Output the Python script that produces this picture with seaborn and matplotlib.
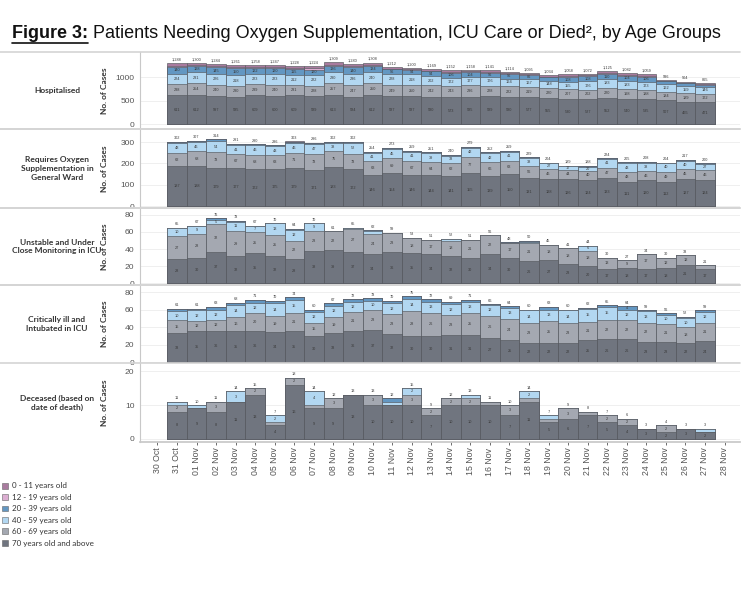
import numpy as np
import pandas as pd
import matplotlib
matplotlib.use("Agg")
import matplotlib.pyplot as plt
from matplotlib.lines import Line2D
from matplotlib.patches import Patch
import seaborn as sns

# ---- data ----
days = pd.date_range("2021-10-31", "2021-11-27")
day_labels = [d.strftime("%d %b") for d in days]
tick_labels = ["30 Oct"] + day_labels + ["28 Nov"]

groups = ["70 years old and above", "60 - 69 years old", "40 - 59 years old",
          "20 - 39 years old", "12 - 19 years old", "0 - 11 years old"]  # bottom -> top
colors = {"0 - 11 years old": "#a97b9f", "12 - 19 years old": "#dcaed2",
          "20 - 39 years old": "#6397c2", "40 - 59 years old": "#b2d7f1",
          "60 - 69 years old": "#a4a8b1", "70 years old and above": "#70757f"}

# Hospitalised
hosp_70 = [611, 612, 597, 585, 609, 600, 609, 589, 613, 584, 612, 587, 587, 580, 573, 585, 589, 580, 577, 555, 530, 527, 552, 540, 535, 507, 465, 471]
hosp_60 = [238, 254, 240, 230, 239, 240, 231, 228, 257, 247, 250, 249, 250, 242, 243, 236, 228, 222, 219, 220, 207, 202, 220, 198, 188, 184, 189, 172]
hosp_40 = [224, 231, 226, 218, 223, 223, 212, 222, 230, 236, 240, 228, 218, 202, 172, 177, 176, 164, 167, 148, 155, 176, 183, 183, 173, 162, 159, 146]
hosp_20 = [140, 128, 145, 150, 122, 120, 115, 120, 136, 140, 134, 96, 94, 94, 106, 104, 96, 96, 86, 72, 108, 108, 110, 104, 106, 54, 59, 49]
hosp_12 = [25, 25, 26, 28, 22, 22, 21, 22, 25, 25, 24, 18, 17, 17, 20, 19, 18, 18, 16, 14, 20, 20, 20, 19, 19, 10, 11, 10]
hosp_0 = [50, 50, 50, 50, 43, 42, 40, 43, 48, 48, 48, 34, 34, 34, 38, 37, 34, 34, 30, 25, 38, 39, 40, 38, 38, 19, 21, 17]

# Requires oxygen supplementation in general ward
oxy_70 = [187, 188, 179, 177, 172, 175, 179, 171, 183, 172, 146, 154, 146, 144, 141, 155, 139, 150, 131, 128, 126, 124, 133, 111, 120, 112, 127, 124]
oxy_60 = [62, 68, 73, 67, 68, 63, 71, 73, 75, 73, 63, 69, 67, 64, 62, 77, 66, 63, 56, 46, 44, 40, 47, 48, 46, 49, 45, 46]
oxy_40 = [48, 46, 54, 41, 46, 43, 46, 47, 38, 52, 41, 45, 41, 39, 33, 42, 42, 41, 38, 27, 17, 20, 41, 43, 38, 40, 40, 27]
oxy_20 = [4, 5, 7, 5, 4, 4, 6, 5, 5, 4, 4, 5, 4, 4, 3, 5, 4, 5, 3, 3, 2, 3, 3, 3, 3, 3, 4, 3]
oxy_12 = [0] * 28
oxy_0 = [1, 0, 1, 1, 0, 1, 1, 0, 1, 1, 0, 0, 1, 0, 1, 0, 1, 0, 1, 0, 0, 1, 0, 0, 1, 0, 1, 0]

# Unstable and under close monitoring in ICU
unst_70 = [28, 30, 37, 32, 35, 32, 28, 38, 39, 37, 34, 36, 35, 34, 32, 30, 34, 30, 26, 27, 23, 20, 17, 18, 17, 18, 21, 17]
unst_60 = [27, 28, 32, 29, 25, 25, 22, 23, 22, 27, 24, 23, 18, 17, 18, 21, 22, 17, 21, 18, 18, 18, 13, 9, 17, 12, 12, 4]
unst_40 = [10, 9, 5, 11, 7, 13, 12, 9, 0, 1, 3, 0, 0, 0, 2, 0, 0, 0, 1, 0, 0, 6, 0, 0, 0, 0, 0, 0]
unst_20 = [0, 0, 2, 1, 0, 0, 2, 0, 0, 0, 1, 0, 0, 0, 0, 0, 0, 1, 2, 0, 0, 0, 0, 0, 0, 0, 0, 0]
unst_12 = [0] * 28
unst_0 = [0] * 28

# Critically ill and intubated in ICU
intu_70 = [33, 35, 36, 35, 36, 34, 35, 30, 33, 36, 37, 32, 30, 30, 31, 31, 27, 25, 22, 22, 22, 25, 26, 26, 23, 23, 22, 24]
intu_60 = [15, 12, 12, 16, 20, 19, 21, 15, 19, 21, 23, 23, 28, 26, 23, 25, 26, 24, 23, 25, 23, 21, 22, 22, 22, 21, 18, 21]
intu_40 = [10, 12, 12, 14, 12, 14, 15, 12, 12, 12, 10, 12, 14, 13, 12, 13, 12, 13, 14, 13, 14, 15, 15, 12, 13, 10, 10, 12]
intu_20 = [3, 2, 3, 3, 3, 3, 3, 3, 3, 3, 3, 3, 3, 3, 3, 2, 1, 2, 1, 3, 1, 1, 2, 4, 1, 2, 2, 2]
intu_12 = [0] * 28
intu_0 = [0] * 28

# Deceased (by date of death)
dead_70 = [8, 9, 8, 11, 13, 4, 16, 9, 9, 13, 10, 10, 10, 7, 10, 10, 10, 7, 11, 5, 6, 7, 5, 4, 3, 2, 3, 2]
dead_60 = [2, 0, 3, 0, 2, 1, 2, 1, 3, 0, 3, 0, 3, 2, 2, 2, 1, 3, 1, 1, 3, 1, 2, 2, 0, 2, 0, 0]
dead_40 = [1, 1, 0, 3, 0, 2, 0, 4, 0, 0, 0, 1, 2, 0, 0, 1, 0, 0, 2, 1, 0, 0, 0, 0, 0, 0, 0, 1]
dead_20 = [0, 0, 0, 0, 0, 0, 0, 0, 0, 0, 0, 1, 0, 0, 0, 0, 0, 0, 0, 0, 0, 0, 0, 0, 0, 0, 0, 0]
dead_12 = [0] * 28
dead_0 = [0] * 28

row_titles = ["Hospitalised",
              "Requires Oxygen\nSupplementation in\nGeneral Ward",
              "Unstable and Under\nClose Monitoring in ICU",
              "Critically ill and\nIntubated in ICU",
              "Deceased (based on\ndate of death)"]

panels = [
    [hosp_70, hosp_60, hosp_40, hosp_20, hosp_12, hosp_0],
    [oxy_70, oxy_60, oxy_40, oxy_20, oxy_12, oxy_0],
    [unst_70, unst_60, unst_40, unst_20, unst_12, unst_0],
    [intu_70, intu_60, intu_40, intu_20, intu_12, intu_0],
    [dead_70, dead_60, dead_40, dead_20, dead_12, dead_0],
]
ylims = [(-106, 1532), (-9, 361), (-2, 88), (-1, 88), (-0.9, 22.4)]
yticks = [[0, 500, 1000], [0, 100, 200, 300], [0, 20, 40, 60, 80], [0, 20, 40, 60, 80], [0, 10, 20]]
# panel bands in pixels (top, bottom)
bands = [(52, 129), (129, 208), (208, 285), (285, 363), (363, 442)]

W, H = 747, 598
sns.set_theme(style="white")
plt.rcParams["font.family"] = ["Liberation Sans", "DejaVu Sans"]

fig = plt.figure(figsize=(W / 100, H / 100), dpi=100)

for k, (layers, ylim, yt, (top, bot)) in enumerate(zip(panels, ylims, yticks, bands)):
    ax = fig.add_axes([140 / W, 1 - bot / H, 600 / W, (bot - top) / H])
    df = pd.DataFrame(dict(zip(groups, layers)), index=day_labels)
    cum = df.cumsum(axis=1)
    for g in reversed(groups):
        sns.barplot(x=day_labels, y=cum[g].values, order=day_labels, color=colors[g],
                    saturation=1, width=1.0, edgecolor="#55585e", linewidth=0.45,
                    errorbar=None, ax=ax)
    ax.set_xlim(-1.89, 28.79)
    ax.set_ylim(*ylim)
    ax.set_yticks(yt)
    ax.tick_params(axis="y", labelsize=6.1, colors="#555555", length=2.5, width=0.6, pad=1.5)
    ax.yaxis.grid(True, color="#ececec", linewidth=0.6)
    ax.set_axisbelow(True)
    for s in ["top", "right", "bottom"]:
        ax.spines[s].set_visible(False)
    ax.spines["left"].set_color("#c8c8c8")
    ax.spines["left"].set_linewidth(0.8)
    ax.set_ylabel("")

    # value labels
    px_per_unit = (bot - top) / (ylim[1] - ylim[0])
    for i in range(len(day_labels)):
        base = 0
        for g in groups:
            v = df[g].iloc[i]
            if v > 0 and v * px_per_unit >= 3.5:
                ax.text(i, base + v / 2, str(v), ha="center", va="center",
                        fontsize=2.8, color="#3a3a3a")
            base += v
        ax.text(i, base + 3.5 / px_per_unit, f"{base:,}", ha="center", va="center",
                fontsize=2.8, color="#3a3a3a")

    if k == len(panels) - 1:
        ax.set_xticks(range(-1, 29))
        ax.set_xticklabels(tick_labels, rotation=90, fontsize=6.3, color="#555555")
        ax.tick_params(axis="x", length=2.5, width=0.6, colors="#555555", pad=1.5, bottom=True)
        ax.spines["bottom"].set_visible(True)
        ax.spines["bottom"].set_color("#c8c8c8")
    else:
        ax.set_xticks([])
    ax.set_xlabel("")

    yc = 1 - (top + bot) / 2 / H
    fig.text(57 / W, yc, row_titles[k], ha="center", va="center", fontsize=6,
             fontweight="bold", family=["Lato", "DejaVu Sans"], color="#333333",
             multialignment="center", linespacing=1.3)
    fig.text(104 / W, yc, "No. of Cases", ha="center", va="center", rotation=90,
             fontsize=6, fontweight="bold", family=["Lato", "DejaVu Sans"], color="#333333")

# horizontal separators across the whole width
for top, bot in bands[:-1]:
    for y in (top, bot):
        fig.add_artist(Line2D([0, 740 / W], [1 - y / H] * 2, color="#d4d4d4", lw=1.2))

# title
t1 = fig.text(12 / W, 1 - 33 / H, "Figure 3:", fontsize=13, fontweight="bold",
              va="center", ha="left", color="#111111")
fig.canvas.draw()
r = fig.canvas.get_renderer()
bb = t1.get_window_extent(r)
inv = fig.transFigure.inverted()
x0, y0 = inv.transform((bb.x0, bb.y0))
x1, _ = inv.transform((bb.x1, bb.y0))
fig.add_artist(Line2D([x0, x1], [y0 - 0.002] * 2, color="#111111", lw=1.2))
fig.text(x1, 1 - 33 / H, " Patients Needing Oxygen Supplementation, ICU Care or Died\u00b2, by Age Groups",
         fontsize=13, va="center", ha="left", color="#111111")

# legend
handles = [Patch(facecolor=colors[g], edgecolor="#666666", linewidth=0.4) for g in reversed(groups)]
fig.legend(handles, list(reversed(groups)), loc="upper left", bbox_to_anchor=(0.0, 1 - 480 / H),
           frameon=False, prop={"family": ["Lato", "DejaVu Sans"], "size": 5.8},
           handlelength=0.75, handleheight=0.75, handletextpad=0.5, labelspacing=0.55,
           borderaxespad=0, borderpad=0.3, labelcolor="#333333")

fig.savefig("out.png", dpi=100)
